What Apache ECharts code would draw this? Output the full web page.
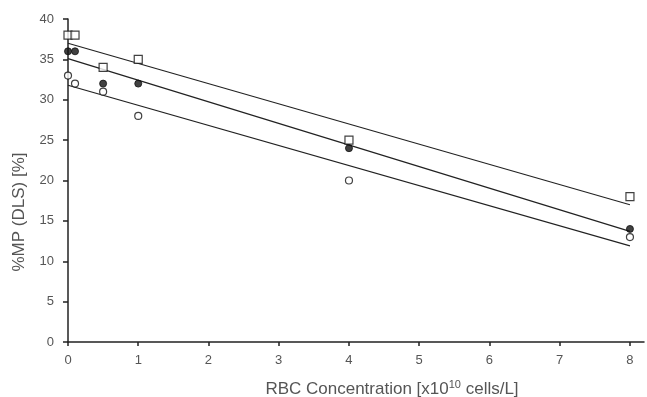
<!DOCTYPE html>
<html><head><meta charset="utf-8">
<script src="https://cdn.jsdelivr.net/npm/echarts@6/dist/echarts.min.js"></script>
<style>html,body{margin:0;padding:0;background:#fff}#c{width:647px;height:397px}</style>
</head><body><div id="c"></div>
<script>
const xVals = [0, 0.1, 0.5, 1, 4, 8];
const squares = [38, 38, 34, 35, 25, 18];
const filled = [36, 36, 32, 32, 24, 14];
const open = [33, 32, 31, 28, 20, 13];
const trendX = [0, 8];
const trendSquares = [37.0, 17.0];
const trendFilled = [35.1, 13.7];
const trendOpen = [31.8, 11.9];
const xTicks = [0, 1, 2, 3, 4, 5, 6, 7, 8];
const xTitle = 'RBC Concentration [x10{sup|10} cells/L]';
const yTitle = '%MP (DLS) [%]';

const pairs = (xs, ys) => xs.map((x, i) => [x, ys[i]]);
const font = 'Liberation Sans, Arial, sans-serif';
const txt = '#555';
const chart = echarts.init(document.getElementById('c'), null, {renderer: 'canvas'});
const lineS = (d) => ({type: 'line', data: pairs(trendX, d), symbol: 'none', silent: true,
  lineStyle: {color: '#222', width: 1.2}, z: 2});
chart.setOption({
  animation: false,
  grid: {left: 68, right: 3, top: 19, bottom: 55},
  graphic: [
    {type: 'text', x: 392, y: 389, style: {text: xTitle, fill: txt, font: '17px ' + font,
      align: 'center', verticalAlign: 'middle',
      rich: {sup: {fontSize: 11, fontFamily: font, fill: txt, verticalAlign: 'top', padding: [0, 0, 8, 0]}}}},
    {type: 'text', x: 19, y: 212, rotation: Math.PI / 2, style: {text: yTitle, fill: txt,
      font: '17px ' + font, align: 'center', verticalAlign: 'middle'}}
  ],
  xAxis: {
    type: 'value', min: 0, max: 8.2, interval: 1,
    axisLine: {lineStyle: {color: '#222', width: 1.5}},
    axisTick: {show: true, inside: false, length: 4, lineStyle: {color: '#222', width: 1.5}, customValues: xTicks},
    axisLabel: {color: txt, fontFamily: font, fontSize: 13, margin: 12, customValues: xTicks},
    splitLine: {show: false}
  },
  yAxis: {
    type: 'value', min: 0, max: 40, interval: 5,
    axisLine: {show: true, lineStyle: {color: '#222', width: 1.5}},
    axisTick: {show: true, inside: false, length: 5, lineStyle: {color: '#222', width: 1.5}},
    axisLabel: {color: txt, fontFamily: font, fontSize: 13, margin: 14},
    splitLine: {show: false}
  },
  series: [
    lineS(trendSquares), lineS(trendFilled), lineS(trendOpen),
    {type: 'scatter', data: pairs(xVals, squares), symbol: 'rect', symbolSize: 8,
      itemStyle: {color: '#fff', borderColor: '#111', borderWidth: 1.2}, z: 3},
    {type: 'scatter', data: pairs(xVals, filled), symbol: 'circle', symbolSize: 7,
      itemStyle: {color: '#111', borderColor: '#111', borderWidth: 1}, z: 4},
    {type: 'scatter', data: pairs(xVals, open), symbol: 'circle', symbolSize: 7,
      itemStyle: {color: '#fff', borderColor: '#111', borderWidth: 1.2}, z: 3}
  ]
});
</script></body></html>
